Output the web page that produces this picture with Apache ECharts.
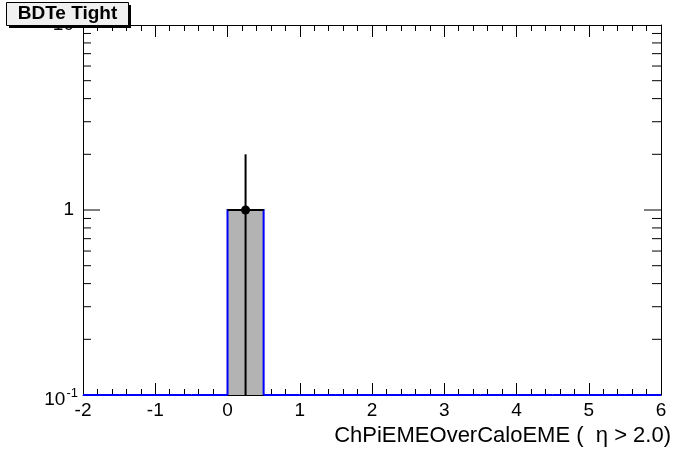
<!DOCTYPE html>
<html>
<head>
<meta charset="utf-8">
<script src="https://cdn.jsdelivr.net/npm/echarts@6/dist/echarts.min.js"></script>
<style>
html,body{margin:0;padding:0;background:#fff;}
#chart{width:696px;height:472px;}
</style>
</head>
<body>
<div id="chart"></div>
<script>
// ---- data ----
const binLow = [-2, -1.5, -1, -0.5, 0, 0.5, 1, 1.5, 2, 2.5, 3, 3.5, 4, 4.5, 5, 5.5];
const binWidth = 0.5;
const binContent = [0, 0, 0, 0, 1, 0, 0, 0, 0, 0, 0, 0, 0, 0, 0, 0];
const binError = [0, 0, 0, 0, 1, 0, 0, 0, 0, 0, 0, 0, 0, 0, 0, 0];
const xMin = -2, xMax = 6, xStep = 1;
const yMin = 0.1, yMax = 10;
const yMajorTicks = [1];
const yMinorTicks = [0.2, 0.3, 0.4, 0.5, 0.6, 0.7, 0.8, 0.9, 2, 3, 4, 5, 6, 7, 8, 9];
const xTitle = 'ChPiEMEOverCaloEME (  \u03b7 > 2.0)';
const boxTitle = 'BDTe Tight';

const FONT = '"Liberation Sans", Arial, Helvetica, sans-serif';

const chart = echarts.init(document.getElementById('chart'), null, {renderer: 'canvas'});

const histData = binLow.map((lo, i) => [lo, lo + binWidth, binContent[i]]);
const errData = binLow.map((lo, i) => [lo, lo + binWidth, binContent[i], binError[i]]);
const yTickData = yMajorTicks.map(v => [xMin, v, 1]).concat(yMinorTicks.map(v => [xMin, v, 0]));

function yLabel(v) {
  if (Math.abs(v - 0.1) < 1e-9) return '{bl|10}{s|-1}';
  if (Math.abs(v - 1) < 1e-9) return '{b1|1}';
  if (Math.abs(v - 10) < 1e-9) return '{b1|10}';
  return '';
}

const xAxisCommon = {
  type: 'value', min: xMin, max: xMax, interval: xStep,
  axisLine: {show: true, onZero: false, lineStyle: {color: '#000', width: 1}},
  axisTick: {show: true, inside: true, length: 12, lineStyle: {color: '#000', width: 1}},
  minorTick: {show: true, splitNumber: 5, length: 6, lineStyle: {color: '#000', width: 1}},
  splitLine: {show: false},
  minorSplitLine: {show: false}
};

const option = {
  animation: false,
  backgroundColor: '#ffffff',
  grid: {left: 83, right: 35, top: 25, bottom: 77, containLabel: false},
  xAxis: [
    Object.assign({}, xAxisCommon, {
      position: 'bottom',
      axisLabel: {show: true, color: '#000', fontSize: 19, fontFamily: FONT, margin: 6}
    }),
    Object.assign({}, xAxisCommon, {
      position: 'top',
      axisLabel: {show: false}
    })
  ],
  yAxis: [
    {
      type: 'log', logBase: 10, min: yMin, max: yMax, position: 'left',
      axisLine: {show: true, onZero: false, lineStyle: {color: '#000', width: 1}},
      axisTick: {show: false},
      splitLine: {show: false},
      axisLabel: {
        show: true, margin: 5, formatter: yLabel,
        rich: {
          b1: {fontSize: 19, fontFamily: FONT, color: '#000', padding: [0, 4, 0, 0]},
          bl: {fontSize: 19, fontFamily: FONT, color: '#000', padding: [10, 0, 0, 0]},
          s: {fontSize: 13, fontFamily: FONT, color: '#000', padding: [0, 0, 4, 1]}
        }
      }
    },
    {
      type: 'log', logBase: 10, min: yMin, max: yMax, position: 'right',
      axisLine: {show: true, onZero: false, lineStyle: {color: '#000', width: 1}},
      axisTick: {show: false},
      splitLine: {show: false},
      axisLabel: {show: false}
    }
  ],
  series: [
    {
      type: 'custom', name: 'hist', xAxisIndex: 0, yAxisIndex: 0,
      data: histData, z: 3,
      renderItem: function (params, api) {
        const lo = api.value(0), hi = api.value(1), v = api.value(2);
        const top = Math.max(v, yMin);
        const p0 = api.coord([lo, yMin]);
        const p1 = api.coord([hi, top]);
        const children = [];
        if (v > yMin) {
          children.push({type: 'rect', shape: {x: p0[0], y: p1[1], width: p1[0] - p0[0], height: p0[1] - p1[1]},
            style: {fill: '#b3b3b3', stroke: null}});
        }
        children.push({type: 'polyline',
          shape: {points: [[p0[0], p0[1]], [p0[0], p1[1]], [p1[0], p1[1]], [p1[0], p0[1]]]},
          style: {stroke: '#0000ff', lineWidth: 2, fill: null}});
        return {type: 'group', children: children};
      }
    },
    {
      type: 'custom', name: 'err', xAxisIndex: 0, yAxisIndex: 0,
      data: errData, z: 4,
      renderItem: function (params, api) {
        const lo = api.value(0), hi = api.value(1), v = api.value(2), e = api.value(3);
        if (!(v > 0)) return null;
        const c = (lo + hi) / 2;
        const pl = api.coord([lo, v]), pr = api.coord([hi, v]);
        const pc = api.coord([c, v]);
        const pt = api.coord([c, Math.min(v + e, yMax)]);
        const pb = api.coord([c, Math.max(v - e, yMin)]);
        return {type: 'group', children: [
          {type: 'line', shape: {x1: pl[0], y1: pl[1], x2: pr[0], y2: pr[1]}, style: {stroke: '#000', lineWidth: 2}},
          {type: 'line', shape: {x1: pt[0], y1: pt[1], x2: pb[0], y2: pb[1]}, style: {stroke: '#000', lineWidth: 2}},
          {type: 'circle', shape: {cx: pc[0], cy: pc[1], r: 4.5}, style: {fill: '#000'}}
        ]};
      }
    },
    {
      type: 'custom', name: 'yticks', xAxisIndex: 0, yAxisIndex: 0,
      data: yTickData, z: 5, silent: true,
      renderItem: function (params, api) {
        const v = api.value(1), major = api.value(2) === 1;
        const pl = api.coord([xMin, v]);
        const pr = api.coord([xMax, v]);
        const len = major ? 17 : 8;
        const lenR = major ? 17 : 9;
        return {type: 'group', children: [
          {type: 'line', shape: {x1: pl[0], y1: pl[1], x2: pl[0] + len, y2: pl[1]}, style: {stroke: '#000', lineWidth: 1}},
          {type: 'line', shape: {x1: pr[0], y1: pr[1], x2: pr[0] - lenR, y2: pr[1]}, style: {stroke: '#000', lineWidth: 1}}
        ]};
      }
    }
  ],
  graphic: [
    {type: 'text', z: 10, style: {x: 671, y: 436, text: xTitle, textAlign: 'right', textVerticalAlign: 'middle',
      font: '22px ' + FONT, fill: '#000'}},
    {type: 'rect', z: 20, shape: {x: 9, y: 5, width: 122, height: 23}, style: {fill: '#000'}},
    {type: 'rect', z: 21, shape: {x: 6.5, y: 2.5, width: 122, height: 23}, style: {fill: '#f0f0f0', stroke: '#000', lineWidth: 1}},
    {type: 'text', z: 22, style: {x: 67.5, y: 14, text: boxTitle, textAlign: 'center', textVerticalAlign: 'middle',
      font: 'bold 19px ' + FONT, fill: '#000'}}
  ]
};

chart.setOption(option);
</script>
</body>
</html>
